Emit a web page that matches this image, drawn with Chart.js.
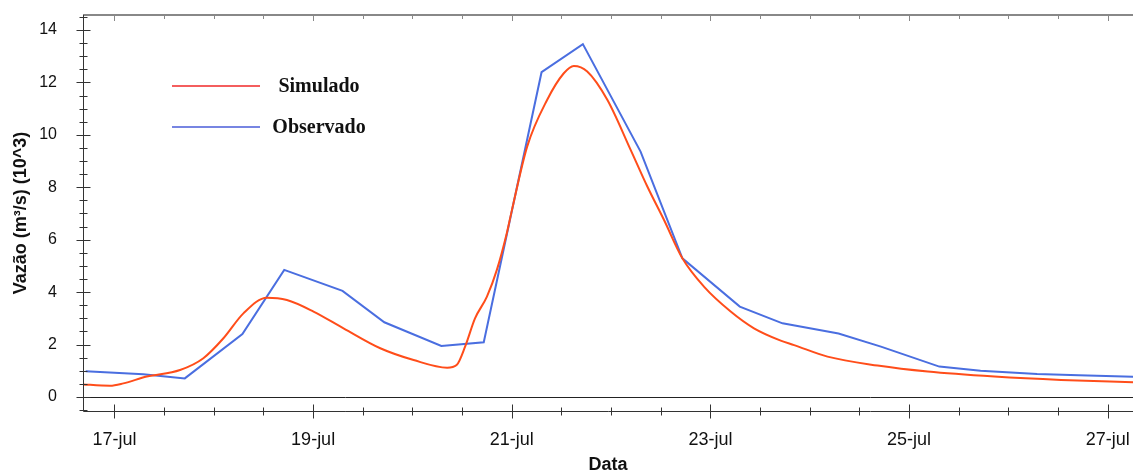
<!DOCTYPE html>
<html>
<head>
<meta charset="utf-8">
<script src="https://cdn.jsdelivr.net/npm/chart.js@4"></script>
<style>
  html, body { margin: 0; padding: 0; background: #fff; }
</style>
</head>
<body>
<canvas id="hydroChart" width="1133" height="473"></canvas>
<script>
// observed flow (m3/s x 10^3), points at day-of-july
const obsDays = [16.71, 17.29, 17.708, 18.288, 18.709, 19.296, 19.717, 20.291, 20.718, 21.300, 21.716, 22.297, 22.718, 23.296, 23.726, 24.29, 24.717, 25.305, 25.72, 26.29, 26.71, 27.29];
const obsFlow = [0.98, 0.87, 0.71, 2.40, 4.85, 4.05, 2.85, 1.95, 2.09, 12.39, 13.46, 9.36, 5.29, 3.45, 2.81, 2.42, 1.92, 1.16, 1.00, 0.88, 0.83, 0.77];

// simulated flow
const simDays = [16.60, 16.682, 16.955, 17.089, 17.325, 17.660, 17.895, 18.097, 18.298, 18.534, 18.736, 19.004, 19.306, 19.676, 20.012, 20.35, 20.445, 20.53, 20.63, 20.75, 20.85, 20.95, 21.0, 21.155, 21.357, 21.524, 21.625, 21.760, 21.962, 22.197, 22.365, 22.532, 22.718, 22.935, 23.204, 23.439, 23.708, 23.843, 24.179, 24.683, 25.188, 25.859, 26.531, 27.267];
const simFlow = [0.50, 0.48, 0.43, 0.52, 0.78, 1.03, 1.48, 2.24, 3.19, 3.79, 3.70, 3.26, 2.62, 1.86, 1.41, 1.12, 1.22, 1.92, 3.00, 3.83, 4.85, 6.25, 7.10, 9.55, 11.34, 12.35, 12.63, 12.42, 11.34, 9.43, 8.03, 6.76, 5.29, 4.21, 3.26, 2.62, 2.15, 1.98, 1.54, 1.20, 0.97, 0.78, 0.65, 0.56];

const xTicks = [17, 19, 21, 23, 25, 27];
const xTickLabels = ['17-jul', '19-jul', '21-jul', '23-jul', '25-jul', '27-jul'];
const yTicks = [0, 2, 4, 6, 8, 10, 12, 14];

const seriesNames = ['Simulado', 'Observado'];
const lineColors = ['#ff4d1a', '#4a6ee0'];
const legendColors = ['#f02828', '#4a5cd8'];

const toPoints = (xs, ys) => xs.map((d, i) => ({ x: d, y: ys[i] }));

// no extra room for overhanging tick labels
const noPadding = (scale) => {
  scale.paddingLeft = 0;
  scale.paddingRight = 0;
  scale.paddingTop = 0;
  scale.paddingBottom = 0;
};

// axis frame, minor ticks and the zero line
const framePlugin = {
  id: 'frame',
  afterDatasetsDraw(chart) {
    const { ctx, chartArea: a, scales: { x, y } } = chart;
    ctx.save();
    ctx.lineWidth = 1;

    // zero line
    ctx.strokeStyle = '#222';
    const y0 = Math.round(y.getPixelForValue(0)) + 0.5;
    ctx.beginPath(); ctx.moveTo(a.left, y0); ctx.lineTo(a.right, y0); ctx.stroke();

    // top border (grey)
    ctx.strokeStyle = '#888';
    ctx.lineWidth = 2;
    ctx.beginPath(); ctx.moveTo(a.left, a.top); ctx.lineTo(a.right, a.top); ctx.stroke();
    ctx.lineWidth = 1;
    for (let k = Math.ceil(x.min * 2); k <= Math.floor(x.max * 2); k++) {
      const px = Math.round(x.getPixelForValue(k / 2)) + 0.5;
      const len = (k % 4 === 2) ? 6 : 4;
      ctx.beginPath(); ctx.moveTo(px, a.top); ctx.lineTo(px, a.top + len); ctx.stroke();
    }

    // left and bottom axes
    ctx.strokeStyle = '#333';
    const lx = Math.round(a.left) + 0.5;
    const by = Math.round(a.bottom) + 0.5;
    ctx.beginPath(); ctx.moveTo(lx, a.top); ctx.lineTo(lx, by); ctx.lineTo(a.right, by); ctx.stroke();

    for (let k = Math.ceil(y.min * 2); k <= Math.floor(y.max * 2); k++) {
      const py = Math.round(y.getPixelForValue(k / 2)) + 0.5;
      const major = k % 4 === 0;
      ctx.beginPath();
      ctx.moveTo(lx - (major ? 7 : 4), py);
      ctx.lineTo(lx + (major ? 7 : 4), py);
      ctx.stroke();
    }
    for (let k = Math.ceil(x.min * 2); k <= Math.floor(x.max * 2); k++) {
      const px = Math.round(x.getPixelForValue(k / 2)) + 0.5;
      const major = k % 4 === 2;
      ctx.beginPath();
      ctx.moveTo(px, by - (major ? 7 : 4));
      ctx.lineTo(px, by + (major ? 7 : 4));
      ctx.stroke();
    }
    ctx.restore();
  }
};

// legend inside the plot
const legendPlugin = {
  id: 'innerLegend',
  afterDraw(chart) {
    const { ctx } = chart;
    ctx.save();
    ctx.font = 'bold 20px "Liberation Serif", "Times New Roman", serif';
    ctx.textAlign = 'center';
    ctx.textBaseline = 'middle';
    chart.data.datasets.forEach((ds, i) => {
      const ly = 86 + i * 41;
      ctx.strokeStyle = legendColors[i];
      ctx.lineWidth = 1.5;
      ctx.beginPath(); ctx.moveTo(172, ly); ctx.lineTo(260, ly); ctx.stroke();
      ctx.fillStyle = '#111';
      ctx.fillText(ds.label, 319, ly + 1);
    });
    ctx.restore();
  }
};

const hydroCtx = document.getElementById('hydroChart').getContext('2d');
const hydroChart = new Chart(hydroCtx, {
  type: 'line',
  data: {
    datasets: [
      {
        label: seriesNames[0],
        data: toPoints(simDays, simFlow),
        borderColor: lineColors[0],
        borderWidth: 2,
        pointRadius: 0,
        cubicInterpolationMode: 'monotone',
        fill: false
      },
      {
        label: seriesNames[1],
        data: toPoints(obsDays, obsFlow),
        borderColor: lineColors[1],
        borderWidth: 2,
        pointRadius: 0,
        tension: 0,
        fill: false
      }
    ]
  },
  options: {
    responsive: false,
    animation: false,
    layout: { padding: { top: 15, right: 0, left: 0, bottom: 0 } },
    plugins: {
      legend: { display: false },
      tooltip: { enabled: false }
    },
    scales: {
      x: {
        type: 'linear',
        min: 16.683,
        max: 27.255,
        grid: { display: false },
        border: { display: false },
        afterBuildTicks: (scale) => { scale.ticks = xTicks.map(v => ({ value: v })); },
        afterFit: (scale) => { scale.height = 62; noPadding(scale); },
        ticks: {
          autoSkip: false,
          maxRotation: 0,
          padding: 10,
          color: '#111',
          font: { family: '"Liberation Sans", Arial, sans-serif', size: 18 },
          callback: (value, index) => xTickLabels[index]
        },
        title: {
          display: true,
          text: 'Data',
          color: '#111',
          padding: 0,
          font: { family: '"Liberation Sans", Arial, sans-serif', size: 18, weight: 'bold', lineHeight: 0.9 }
        }
      },
      y: {
        type: 'linear',
        min: -0.534,
        max: 14.572,
        grid: { display: false },
        border: { display: false },
        afterBuildTicks: (scale) => { scale.ticks = yTicks.map(v => ({ value: v })); },
        afterFit: (scale) => { scale.width = 83; noPadding(scale); },
        ticks: {
          padding: 18,
          color: '#111',
          font: { family: '"Liberation Sans", Arial, sans-serif', size: 16 }
        },
        title: {
          display: true,
          text: 'Vazão (m³/s) (10^3)',
          color: '#111',
          padding: { top: 10, bottom: 0 },
          font: { family: '"Liberation Sans", Arial, sans-serif', size: 18, weight: 'bold' }
        }
      }
    }
  },
  plugins: [framePlugin, legendPlugin]
});
</script>
</body>
</html>
